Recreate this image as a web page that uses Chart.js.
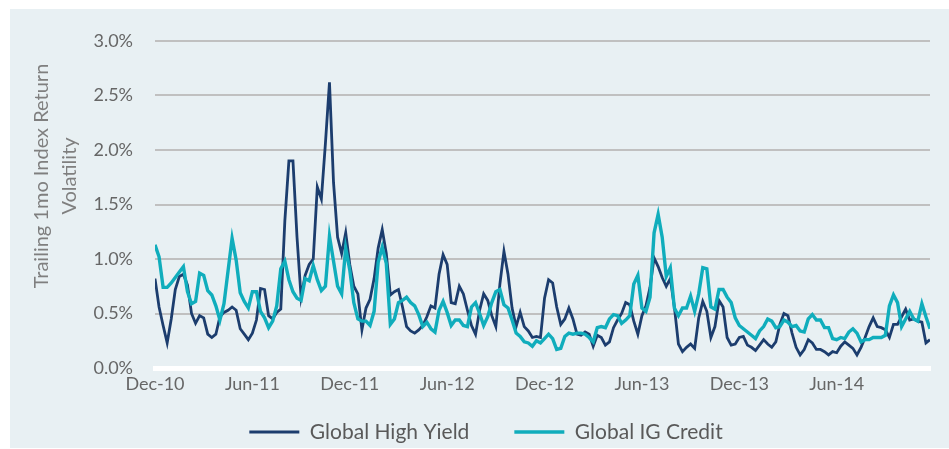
<!DOCTYPE html>
<html><head><meta charset="utf-8">
<script src="https://cdn.jsdelivr.net/npm/chart.js@4.4.1/dist/chart.umd.min.js"></script>
<style>
html,body{margin:0;padding:0;background:#ffffff;}
#panel{position:absolute;left:10px;top:9px;width:939px;height:439px;background:#e8f0f3;}
#c{position:absolute;left:0;top:0;}
</style></head><body>
<div id="panel"></div>
<canvas id="c" width="949" height="449"></canvas>
<script>
// x tick labels, one every 6 months starting Dec-10
const tickLabels = ['Dec-10','Jun-11','Dec-11','Jun-12','Dec-12','Jun-13','Dec-13','Jun-14'];
const monthsPerTick = 6;
// observations roughly weekly: step in months since Dec-10
const monthsPerStep = 0.25;
const seriesNames = ['Global High Yield', 'Global IG Credit'];
const yTitleLines = ['Trailing 1mo Index Return', 'Volatility'];

// values in %
const highYield = [
 0.82,0.56,0.39,0.23,0.45,0.72,0.84,0.86,0.76,0.50,
 0.41,0.48,0.46,0.31,0.28,0.31,0.47,0.51,0.53,0.56,
 0.53,0.36,0.31,0.26,0.32,0.44,0.73,0.72,0.48,0.45,
 0.51,0.54,1.35,1.90,1.90,1.20,0.65,0.85,0.95,1.00,
 1.66,1.55,2.06,2.62,1.70,1.20,1.05,1.24,0.95,0.75,
 0.68,0.35,0.55,0.63,0.82,1.10,1.27,1.05,0.67,0.70,
 0.72,0.56,0.38,0.34,0.32,0.35,0.39,0.47,0.57,0.55,
 0.86,1.04,0.95,0.60,0.59,0.75,0.68,0.53,0.39,0.31,
 0.53,0.68,0.62,0.48,0.38,0.77,1.07,0.86,0.55,0.38,
 0.51,0.38,0.34,0.28,0.29,0.28,0.64,0.81,0.78,0.56,
 0.40,0.45,0.55,0.45,0.31,0.30,0.33,0.31,0.20,0.30,
 0.28,0.21,0.24,0.37,0.44,0.50,0.60,0.58,0.43,0.31,
 0.48,0.57,0.74,1.01,0.93,0.83,0.75,0.82,0.56,0.22,
 0.15,0.19,0.22,0.18,0.46,0.61,0.52,0.28,0.38,0.62,
 0.56,0.28,0.21,0.22,0.28,0.29,0.21,0.19,0.16,0.21,
 0.26,0.22,0.19,0.24,0.40,0.50,0.48,0.32,0.19,0.12,
 0.17,0.26,0.23,0.17,0.17,0.15,0.12,0.15,0.14,0.20,
 0.24,0.21,0.18,0.12,0.19,0.28,0.38,0.46,0.38,0.37,
 0.35,0.28,0.40,0.40,0.47,0.54,0.44,0.45,0.43,0.42,
 0.23,0.26
];
const igCredit = [
 1.13,1.02,0.74,0.74,0.78,0.83,0.88,0.93,0.70,0.59,
 0.61,0.87,0.85,0.71,0.67,0.57,0.44,0.59,0.89,1.19,
 0.99,0.69,0.61,0.55,0.70,0.70,0.52,0.46,0.37,0.43,
 0.57,0.91,0.98,0.81,0.70,0.64,0.62,0.82,0.80,0.94,
 0.81,0.71,0.75,1.21,0.98,0.75,0.68,1.10,0.90,0.60,
 0.45,0.43,0.43,0.39,0.52,0.97,1.11,0.96,0.40,0.45,
 0.60,0.62,0.65,0.60,0.57,0.49,0.38,0.42,0.36,0.33,
 0.53,0.61,0.51,0.39,0.44,0.44,0.39,0.38,0.56,0.60,
 0.50,0.39,0.47,0.60,0.70,0.72,0.58,0.55,0.44,0.32,
 0.29,0.24,0.23,0.20,0.25,0.23,0.27,0.31,0.27,0.17,
 0.18,0.29,0.32,0.31,0.32,0.32,0.31,0.28,0.24,0.37,
 0.38,0.37,0.45,0.49,0.48,0.41,0.44,0.48,0.77,0.85,
 0.55,0.52,0.65,1.24,1.41,1.20,0.84,0.92,0.55,0.48,
 0.55,0.55,0.66,0.52,0.68,0.92,0.91,0.56,0.54,0.72,
 0.72,0.65,0.60,0.46,0.39,0.36,0.33,0.30,0.27,0.34,
 0.38,0.45,0.43,0.37,0.38,0.44,0.42,0.38,0.39,0.34,
 0.33,0.45,0.49,0.44,0.44,0.37,0.37,0.27,0.26,0.28,
 0.27,0.33,0.36,0.32,0.24,0.26,0.26,0.28,0.28,0.28,
 0.30,0.57,0.67,0.60,0.38,0.45,0.52,0.45,0.43,0.59,
 0.47,0.36
];

const toPoints = arr => arr.map((v, i) => ({x: i * monthsPerStep, y: v}));
const lastX = (highYield.length - 1) * monthsPerStep;

const yTitlePlugin = {
  id: 'yTitle',
  afterDraw(chart) {
    const ctx = chart.ctx;
    ctx.save();
    ctx.translate(56, 176);
    ctx.rotate(-Math.PI / 2);
    ctx.font = '20px Lato';
    ctx.fillStyle = '#7f7f7f';
    ctx.textAlign = 'center';
    ctx.textBaseline = 'middle';
    yTitleLines.forEach((t, i) => ctx.fillText(t, 0, (i - 0.5) * 28));
    ctx.restore();
  }
};

new Chart(document.getElementById('c'), {
  type: 'line',
  data: {
    datasets: [
      {label: seriesNames[0], data: toPoints(highYield), borderColor: '#1c3d6e', backgroundColor: '#1c3d6e',
       borderWidth: 2.8, pointRadius: 0, tension: 0, order: 1},
      {label: seriesNames[1], data: toPoints(igCredit), borderColor: '#10adbc', backgroundColor: '#10adbc',
       borderWidth: 3.4, pointRadius: 0, tension: 0, order: 0}
    ]
  },
  options: {
    responsive: false,
    animation: false,
    layout: {padding: {left: 42, right: 19, top: 41, bottom: 0}},
    plugins: {
      tooltip: {enabled: false},
      legend: {
        position: 'bottom',
        maxHeight: 72.5,
        labels: {
          sort: (a, b) => a.datasetIndex - b.datasetIndex,
          usePointStyle: true, pointStyle: 'line', pointStyleWidth: 50,
          padding: 45, color: '#595959', font: {family: 'Lato', size: 21}
        }
      }
    },
    scales: {
      x: {
        type: 'linear', min: 0, max: lastX,
        grid: {display: false, drawTicks: false},
        border: {display: true, color: '#ffffff', width: 5},
        ticks: {
          stepSize: monthsPerTick, includeBounds: false, maxRotation: 0, autoSkip: false,
          mirror: true, padding: -27, color: '#666666', font: {family: 'Lato', size: 18},
          callback: v => tickLabels[Math.round(v / monthsPerTick)] ?? ''
        },
        afterFit: s => { s.height = 8.5; }
      },
      y: {
        min: 0, max: 3,
        grid: {color: ctx => ctx.tick.value === 0 ? 'rgba(0,0,0,0)' : '#c0c0c0', lineWidth: 2, drawTicks: false},
        border: {display: false},
        ticks: {stepSize: 0.5, padding: 22, color: '#666666', font: {family: 'Lato', size: 18},
          callback: v => v.toFixed(1) + '%'},
        afterFit: s => { s.width = 113; }
      }
    }
  },
  plugins: [yTitlePlugin]
});
</script>
</body></html>
